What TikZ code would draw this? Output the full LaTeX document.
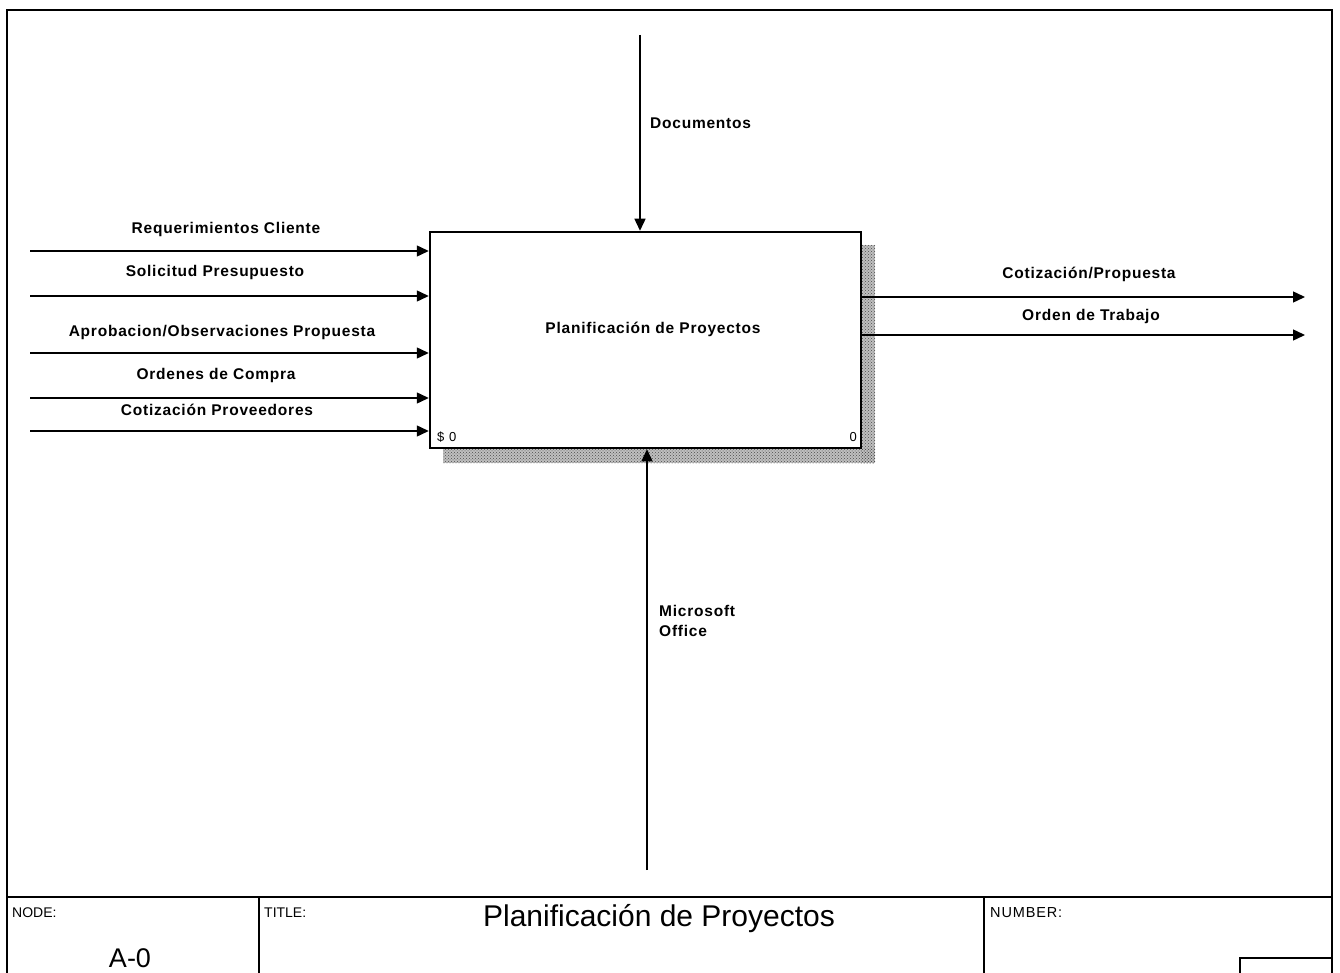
\documentclass[tikz,border=0pt]{standalone}
\usepackage{fontspec}
\setmainfont{Liberation Sans}
\newfontfamily\lblfont[LetterSpace=5]{Liberation Sans}
\usetikzlibrary{arrows.meta,patterns}
\begin{document}
\begin{tikzpicture}[x=1pt,y=-1pt,
  arr/.style={line width=1.4pt,-{Triangle[length=12pt,width=11pt]}},
  lbl/.style={inner sep=0pt,font=\lblfont\fontsize{15.5}{18}\selectfont\bfseries},
  frameline/.style={line width=1.4pt},
  small/.style={inner sep=0pt,font=\fontsize{14}{16}\selectfont},
  shadow/.style={pattern=crosshatch dots,pattern color=black!70}]
\useasboundingbox (0,0) rectangle (1340,973);
\clip (0,0) rectangle (1340,973);
% sheet frame and title block
\draw[line width=2pt] (7,990) -- (7,10) -- (1332,10) -- (1332,990);
\draw[frameline] (7,897) -- (1332,897);
\draw[frameline] (259,897) -- (259,990);
\draw[frameline] (984,897) -- (984,990);
\draw[frameline] (1332,958) -- (1240,958) -- (1240,990);
\node[small,anchor=west] (nodelbl) at (12,913) {NODE:};
\node[inner sep=0pt,font=\fontsize{27}{30}\selectfont] (nodenum) at (130,958) {A-0};
\node[small,anchor=west] (titlelbl) at (264,913) {TITLE:};
\node[inner sep=0pt,font=\fontsize{30}{34}\selectfont] (title) at (659,919) {Planificación de Proyectos};
\node[small,anchor=west,font=\addfontfeature{LetterSpace=6}\fontsize{14.5}{16}\selectfont] (numlbl) at (990,913) {NUMBER:};
% activity box with its stippled shadow
\fill[black!25] (861,245) rectangle (875,463);
\fill[black!25] (443,448) rectangle (875,463);
\fill[shadow] (861,245) rectangle (875,463);
\fill[shadow] (443,448) rectangle (875,463);
\node[draw,line width=2.5pt,fill=white,minimum width=431pt,minimum height=216pt,inner sep=0pt] (proc) at (645.5,340) {};
\node[lbl] (proctitle) at (653,329) {Planificación de Proyectos};
\node[small,anchor=west,font=\addfontfeature{LetterSpace=8}\fontsize{13}{15}\selectfont] (cost) at (437,437) {\$ 0};
\node[small,anchor=east,font=\fontsize{13}{15}\selectfont] (num) at (857,437) {0};
% inputs
\coordinate (i1) at (30,251);
\coordinate (i2) at (30,296);
\coordinate (i3) at (30,353);
\coordinate (i4) at (30,398);
\coordinate (i5) at (30,431);
\foreach \c in {i1,i2,i3,i4,i5} \draw[arr] (\c) -- (\c -| proc.west);
\node[lbl] (l1) at (226,229) {Requerimientos Cliente};
\node[lbl] (l2) at (215,272) {Solicitud Presupuesto};
\node[lbl] (l3) at (222,332) {Aprobacion/Observaciones Propuesta};
\node[lbl] (l4) at (216,375) {Ordenes de Compra};
\node[lbl] (l5) at (217,410) {Cotización Proveedores};
% outputs
\coordinate (o1) at (1305,297);
\coordinate (o2) at (1305,335);
\draw[arr] (o1 -| proc.east) -- (o1);
\draw[arr] (o2 -| proc.east) -- (o2);
\node[lbl] (lo1) at (1089,274) {Cotización/Propuesta};
\node[lbl] (lo2) at (1091,316) {Orden de Trabajo};
% control
\coordinate (c1) at (640,35);
\draw[arr] (c1) -- (c1 |- proc.north);
\node[lbl,anchor=west] (lc1) at (650,123) {Documentos};
% mechanism
\coordinate (m1) at (647,870);
\draw[arr] (m1) -- (m1 |- proc.south);
\node[lbl,anchor=west,align=left,font=\lblfont\fontsize{15.5}{20}\selectfont\bfseries] (lm1) at (659,621) {Microsoft\\Office};
\end{tikzpicture}
\end{document}
